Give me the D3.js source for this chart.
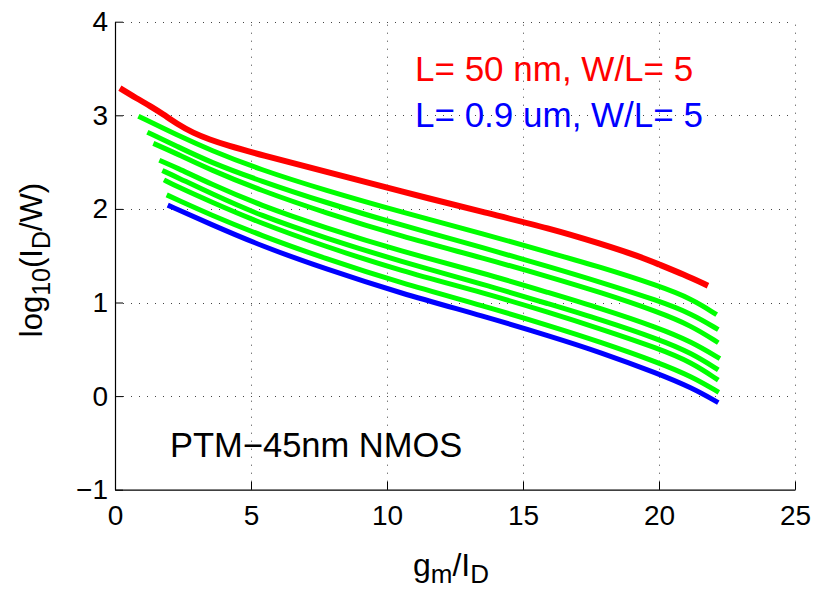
<!DOCTYPE html>
<html>
<head>
<meta charset="utf-8">
<script src="https://cdn.jsdelivr.net/npm/d3@7"></script>
<style>
  html, body { margin: 0; padding: 0; background: #fff; }
  svg { display: block; }
  text { font-family: "Liberation Sans", Arial, Helvetica, sans-serif; }
</style>
</head>
<body>
<svg id="chart" width="815" height="591"></svg>
<script>
// log10(I_D/W) versus gm/I_D for PTM-45nm NMOS devices, W/L = 5
const xTicks = [0, 5, 10, 15, 20, 25];
const yTicks = [-1, 0, 1, 2, 3, 4];
const yTickLabels = ["\u22121", "0", "1", "2", "3", "4"];

// L = 50 nm
const curveShort = [[0.18,3.29],[0.80,3.18],[1.29,3.10],[1.78,3.01],[2.27,2.91],[2.88,2.81],[3.49,2.74],[4.11,2.68],[5.33,2.58],[7.72,2.40],[10.48,2.19],[13.6,1.96],[16.0,1.79],[17.83,1.63],[19.3,1.49],[19.97,1.41],[20.9,1.30],[21.8,1.18]];

// intermediate channel lengths
const curveMid1 = [[0.86,2.99],[2.27,2.79],[3.49,2.63],[5.33,2.42],[7.72,2.20],[10.48,1.97],[13.6,1.73],[16.0,1.53],[17.83,1.38],[19.97,1.18],[21.2,1.04],[22.12,0.87]];
const curveMid2 = [[1.19,2.82],[2.27,2.67],[3.49,2.50],[5.33,2.30],[7.72,2.07],[10.48,1.83],[13.6,1.58],[16.0,1.38],[17.83,1.22],[19.97,1.02],[21.2,0.88],[22.18,0.71]];
const curveMid3 = [[1.41,2.70],[2.27,2.59],[3.49,2.42],[5.33,2.20],[7.72,1.96],[10.48,1.71],[13.6,1.47],[16.0,1.27],[17.83,1.11],[19.97,0.90],[21.2,0.75],[22.18,0.57]];
const curveMid4 = [[1.63,2.52],[2.27,2.44],[3.49,2.27],[5.33,2.04],[7.72,1.80],[10.48,1.55],[13.6,1.31],[16.0,1.10],[17.83,0.94],[19.97,0.73],[21.2,0.58],[22.24,0.40]];
const curveMid5 = [[1.74,2.41],[2.27,2.34],[3.49,2.17],[5.33,1.93],[7.72,1.69],[10.48,1.44],[13.6,1.19],[16.0,0.98],[17.83,0.82],[19.97,0.61],[21.2,0.46],[22.18,0.28]];
const curveMid6 = [[1.80,2.31],[2.27,2.24],[3.49,2.08],[5.33,1.85],[7.72,1.60],[10.48,1.34],[13.6,1.10],[16.0,0.89],[17.83,0.72],[19.97,0.51],[21.2,0.36],[22.18,0.17]];
const curveMid7 = [[1.90,2.15],[2.27,2.10],[3.49,1.94],[5.33,1.72],[7.72,1.47],[10.48,1.21],[13.6,0.96],[16.0,0.75],[17.83,0.58],[19.97,0.36],[21.2,0.21],[22.2,0.04]];

// L = 0.9 um
const curveLong = [[1.94,2.04],[3.49,1.84],[5.33,1.61],[7.72,1.36],[10.48,1.10],[13.6,0.85],[16.0,0.64],[17.83,0.47],[19.97,0.24],[21.2,0.09],[22.18,-0.07]];

const midCurves = [curveMid1, curveMid2, curveMid3, curveMid4, curveMid5, curveMid6, curveMid7];

const legendLabels = ["L= 50 nm, W/L= 5", "L= 0.9 um, W/L= 5"];
const annotation = "PTM\u221245nm NMOS";

const svg = d3.select("#chart");
const x = d3.scaleLinear().domain([0, 25]).range([115, 795]);
const y = d3.scaleLinear().domain([-1, 4]).range([489.7, 21.7]);

// dotted grid
const grid = svg.append("g").attr("stroke", "#444").attr("stroke-width", 1)
  .attr("stroke-dasharray", "1,7").attr("fill", "none");
grid.selectAll("line.gx").data(xTicks.filter(d => d > 0)).join("line")
  .attr("x1", d => Math.round(x(d)) + 0.5).attr("x2", d => Math.round(x(d)) + 0.5)
  .attr("y1", y(-1)).attr("y2", y(4));
grid.selectAll("line.gy").data(yTicks.filter(d => d > -1)).join("line")
  .attr("x1", x(0)).attr("x2", x(25))
  .attr("y1", d => Math.round(y(d)) + 0.5).attr("y2", d => Math.round(y(d)) + 0.5);

// curves
const line = d3.line().x(d => x(d[0])).y(d => y(d[1])).curve(d3.curveBasis);
const plot = svg.append("g").attr("fill", "none").attr("stroke-linejoin", "round");
plot.selectAll("path.mid").data(midCurves).join("path")
  .attr("d", line).attr("stroke", "#00ff00").attr("stroke-width", 5);
plot.append("path").datum(curveLong).attr("d", line)
  .attr("stroke", "#0000ff").attr("stroke-width", 5);
plot.append("path").datum(curveShort).attr("d", line)
  .attr("stroke", "#ff0000").attr("stroke-width", 6);

// axes
const font = "'Liberation Sans', Arial, Helvetica, sans-serif";
const xAxis = svg.append("g").attr("transform", `translate(0,${y(-1)})`)
  .call(d3.axisBottom(x).tickValues(xTicks).tickSizeInner(-8).tickSizeOuter(0).tickPadding(15));
const yAxis = svg.append("g").attr("transform", `translate(${x(0)},0)`)
  .call(d3.axisLeft(y).tickValues(yTicks).tickFormat((d, i) => yTickLabels[i])
    .tickSizeInner(-8).tickSizeOuter(0).tickPadding(7));
[xAxis, yAxis].forEach(g => {
  g.attr("font-size", 28).attr("font-family", font);
  g.select(".domain").attr("stroke", "#000").attr("stroke-width", 1.2);
  g.selectAll(".tick line").attr("stroke", "#000");
  g.selectAll(".tick text").attr("fill", "#000");
});

// axis titles
const xLabel = svg.append("text").attr("x", 451).attr("y", 576)
  .attr("text-anchor", "middle").attr("font-size", 32).attr("fill", "#000");
xLabel.append("tspan").text("g");
xLabel.append("tspan").attr("dy", 7).attr("font-size", 26).text("m");
xLabel.append("tspan").attr("dy", -7).text("/I");
xLabel.append("tspan").attr("dy", 7).attr("font-size", 26).text("D");

const yLabel = svg.append("text")
  .attr("transform", "translate(42,260) rotate(-90)")
  .attr("text-anchor", "middle").attr("font-size", 31).attr("fill", "#000");
yLabel.append("tspan").text("log");
yLabel.append("tspan").attr("dy", 8).attr("font-size", 25).text("10");
yLabel.append("tspan").attr("dy", -8).text("(I");
yLabel.append("tspan").attr("dy", 8).attr("font-size", 25).text("D");
yLabel.append("tspan").attr("dy", -8).text("/W)");

// legend texts
const legendColors = ["#ff0000", "#0000ff"];
svg.selectAll("text.legend").data(legendLabels).join("text")
  .attr("class", "legend")
  .attr("x", 415).attr("y", (d, i) => 80.7 + i * 46.6)
  .attr("font-size", 35).attr("fill", (d, i) => legendColors[i])
  .text(d => d);

// device annotation
svg.append("text").attr("x", 170).attr("y", 456.7)
  .attr("font-size", 34.5).attr("fill", "#000").text(annotation);
</script>
</body>
</html>
